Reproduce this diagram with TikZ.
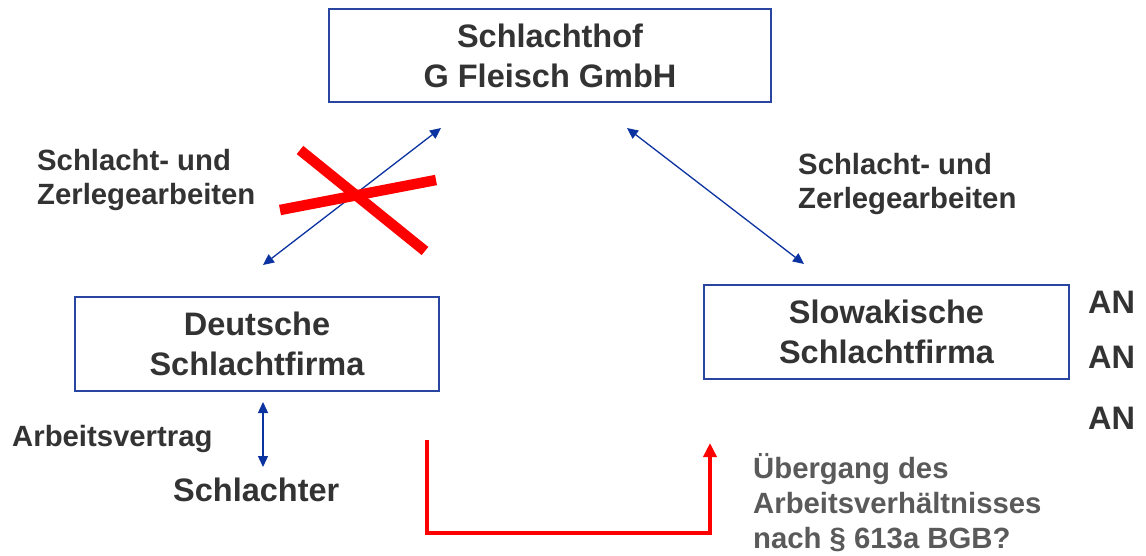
\documentclass[tikz,border=0pt]{standalone}
\usepackage{fontspec}
\setmainfont{Liberation Sans}
\usetikzlibrary{arrows.meta}
\definecolor{boxblue}{RGB}{40,70,160}
\definecolor{arrowblue}{RGB}{10,50,160}
\definecolor{txt}{RGB}{51,51,51}
\definecolor{graytxt}{RGB}{90,90,90}
\definecolor{xred}{RGB}{255,0,0}
\begin{document}
\begin{tikzpicture}[x=1pt,y=-1pt,
  firm/.style={draw=boxblue,line width=1.4pt,fill=white,align=center,
    text=txt,font=\fontsize{32.5}{40}\selectfont\bfseries,inner sep=0pt},
  lbl/.style={anchor=base west,align=left,text=txt,inner sep=0pt,
    font=\fontsize{29.3}{34}\selectfont\bfseries},
  biarrow/.style={draw=arrowblue,line width=1.3pt,
    {Triangle[length=11pt,width=10pt]}-{Triangle[length=11pt,width=10pt]}},
  cross/.style={draw=xred,line width=10.5pt},
  transfer/.style={draw=xred,line width=4.5pt,-{Triangle[length=14pt,width=13pt]}}]
\useasboundingbox (0,0) rectangle (1146,556);

% companies
\node[firm,minimum width=442pt,minimum height=93pt] (hof) at (550,55.5)
  {Schlachthof\\G Fleisch GmbH};
\node[firm,minimum width=364pt,minimum height=94pt] (de) at (257,344)
  {Deutsche\\Schlachtfirma};
\node[firm,minimum width=365pt,minimum height=94pt] (sk) at (886.5,332)
  {Slowakische\\Schlachtfirma};

% labels (base = baseline of the last line)
\node[lbl] (lw) at (37,205) {Schlacht- und\\Zerlegearbeiten};
\node[lbl] (rw) at (798,209) {Schlacht- und\\Zerlegearbeiten};
\node[lbl] (av) at (12,446) {Arbeitsvertrag};
\node[lbl,font=\fontsize{32.5}{40}\selectfont\bfseries] (sch) at (173,501) {Schlachter};
\node[lbl,font=\fontsize{32.5}{36}\selectfont\bfseries] (an1) at (1088,313) {AN};
\node[lbl,font=\fontsize{32.5}{36}\selectfont\bfseries] (an2) at (1088,368) {AN};
\node[lbl,font=\fontsize{32.5}{36}\selectfont\bfseries] (an3) at (1088,429) {AN};
\node[lbl,text=graytxt,font=\fontsize{29.3}{35}\selectfont\bfseries] (ug) at (753,548)
  {Übergang des\\Arbeitsverhältnisses\\nach § 613a BGB?};

% contract relations
\coordinate (la1) at (263,265);
\coordinate (la2) at (441,128);
\coordinate (ra1) at (627,128);
\coordinate (ra2) at (804,264);
\coordinate (va1) at (263,402);
\coordinate (va2) at (263,467);
\draw[biarrow] (la1) -- (la2);
\draw[biarrow] (ra1) -- (ra2);
\draw[biarrow] (va1) -- (va2);

% crossed-out relation
\coordinate (x1a) at (300,150);
\coordinate (x1b) at (425,251);
\coordinate (x2a) at (280,210);
\coordinate (x2b) at (436,180);
\draw[cross] (x1a) -- (x1b);
\draw[cross] (x2a) -- (x2b);

% transfer of employment
\coordinate (tr1) at (427,440);
\coordinate (tr2) at (710,443);
\draw[transfer] (tr1) -- ++(0,93) -| (tr2);
\end{tikzpicture}
\end{document}
